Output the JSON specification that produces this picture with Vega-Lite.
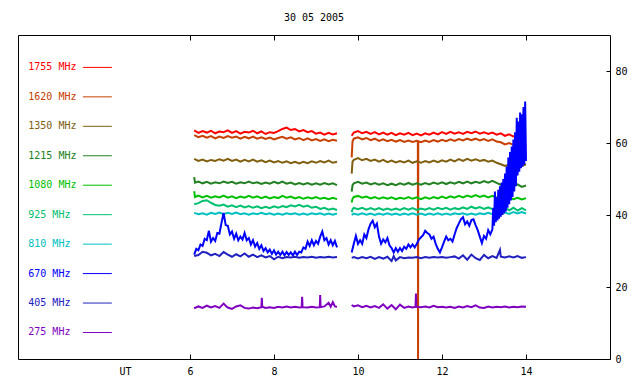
{
"$schema":"https://vega.github.io/schema/vega-lite/v6.json",
"width":592,"height":324,
"autosize":{"type":"none"},
"padding":{"left":18,"top":35,"right":30,"bottom":25},
"background":"white",
"config":{"view":{"stroke":"black","strokeWidth":1},"font":"DejaVu Sans Mono"},
"title":{"text":"30 05 2005","font":"DejaVu Sans Mono","fontSize":10,"fontWeight":"normal","color":"black","offset":12},
"datasets":{
"legend":[{"f":"1755","l":"1755 MHz"},{"f":"1620","l":"1620 MHz"},{"f":"1350","l":"1350 MHz"},{"f":"1215","l":"1215 MHz"},{"f":"1080","l":"1080 MHz"},{"f":"925","l":"925 MHz"},{"f":"810","l":"810 MHz"},{"f":"670","l":"670 MHz"},{"f":"405","l":"405 MHz"},{"f":"275","l":"275 MHz"}],
"lines":[
{"f":"1755","s":1,"t":6.1,"v":63.5},{"f":"1755","s":1,"t":6.2,"v":62.8},{"f":"1755","s":1,"t":6.3,"v":63.3},{"f":"1755","s":1,"t":6.4,"v":62.9},{"f":"1755","s":1,"t":6.5,"v":63.4},{"f":"1755","s":1,"t":6.6,"v":62.7},{"f":"1755","s":1,"t":6.7,"v":63.2},{"f":"1755","s":1,"t":6.8,"v":63.0},{"f":"1755","s":1,"t":6.9,"v":63.5},{"f":"1755","s":1,"t":7.0,"v":62.8},{"f":"1755","s":1,"t":7.1,"v":63.3},{"f":"1755","s":1,"t":7.2,"v":62.6},{"f":"1755","s":1,"t":7.3,"v":63.1},{"f":"1755","s":1,"t":7.4,"v":62.9},{"f":"1755","s":1,"t":7.5,"v":63.4},{"f":"1755","s":1,"t":7.6,"v":62.7},{"f":"1755","s":1,"t":7.7,"v":63.2},{"f":"1755","s":1,"t":7.8,"v":62.5},{"f":"1755","s":1,"t":7.9,"v":63.0},{"f":"1755","s":1,"t":8.0,"v":62.8},{"f":"1755","s":1,"t":8.1,"v":63.3},{"f":"1755","s":1,"t":8.2,"v":63.9},{"f":"1755","s":1,"t":8.3,"v":64.3},{"f":"1755","s":1,"t":8.4,"v":63.6},{"f":"1755","s":1,"t":8.5,"v":63.9},{"f":"1755","s":1,"t":8.6,"v":63.2},{"f":"1755","s":1,"t":8.7,"v":63.6},{"f":"1755","s":1,"t":8.8,"v":63.0},{"f":"1755","s":1,"t":8.9,"v":63.3},{"f":"1755","s":1,"t":9.0,"v":62.6},{"f":"1755","s":1,"t":9.1,"v":62.9},{"f":"1755","s":1,"t":9.2,"v":62.3},{"f":"1755","s":1,"t":9.3,"v":62.8},{"f":"1755","s":1,"t":9.4,"v":62.4},{"f":"1755","s":1,"t":9.5,"v":62.7},
{"f":"1755","s":2,"t":9.85,"v":62.0},{"f":"1755","s":2,"t":9.9,"v":62.9},{"f":"1755","s":2,"t":10.0,"v":63.3},{"f":"1755","s":2,"t":10.1,"v":62.7},{"f":"1755","s":2,"t":10.2,"v":63.1},{"f":"1755","s":2,"t":10.3,"v":62.5},{"f":"1755","s":2,"t":10.4,"v":63.0},{"f":"1755","s":2,"t":10.5,"v":62.4},{"f":"1755","s":2,"t":10.6,"v":62.9},{"f":"1755","s":2,"t":10.7,"v":62.3},{"f":"1755","s":2,"t":10.8,"v":62.8},{"f":"1755","s":2,"t":10.9,"v":62.2},{"f":"1755","s":2,"t":11.0,"v":62.7},{"f":"1755","s":2,"t":11.1,"v":62.3},{"f":"1755","s":2,"t":11.2,"v":62.8},{"f":"1755","s":2,"t":11.3,"v":62.2},{"f":"1755","s":2,"t":11.4,"v":62.6},{"f":"1755","s":2,"t":11.5,"v":62.1},{"f":"1755","s":2,"t":11.6,"v":62.7},{"f":"1755","s":2,"t":11.7,"v":62.3},{"f":"1755","s":2,"t":11.8,"v":62.9},{"f":"1755","s":2,"t":11.9,"v":62.4},{"f":"1755","s":2,"t":12.0,"v":63.0},{"f":"1755","s":2,"t":12.1,"v":62.5},{"f":"1755","s":2,"t":12.2,"v":63.1},{"f":"1755","s":2,"t":12.3,"v":62.6},{"f":"1755","s":2,"t":12.4,"v":63.0},{"f":"1755","s":2,"t":12.5,"v":62.5},{"f":"1755","s":2,"t":12.6,"v":63.1},{"f":"1755","s":2,"t":12.7,"v":62.7},{"f":"1755","s":2,"t":12.8,"v":63.2},{"f":"1755","s":2,"t":12.9,"v":62.6},{"f":"1755","s":2,"t":13.0,"v":63.0},{"f":"1755","s":2,"t":13.1,"v":62.5},{"f":"1755","s":2,"t":13.2,"v":62.9},{"f":"1755","s":2,"t":13.3,"v":62.3},{"f":"1755","s":2,"t":13.4,"v":62.7},{"f":"1755","s":2,"t":13.5,"v":62.0},{"f":"1755","s":2,"t":13.6,"v":62.4},{"f":"1755","s":2,"t":13.7,"v":61.8},{"f":"1755","s":2,"t":13.8,"v":62.3},{"f":"1755","s":2,"t":13.9,"v":61.6},{"f":"1755","s":2,"t":14.0,"v":62.0},
{"f":"1620","s":1,"t":6.1,"v":62.2},{"f":"1620","s":1,"t":6.2,"v":61.6},{"f":"1620","s":1,"t":6.3,"v":62.0},{"f":"1620","s":1,"t":6.4,"v":61.5},{"f":"1620","s":1,"t":6.5,"v":61.9},{"f":"1620","s":1,"t":6.6,"v":61.3},{"f":"1620","s":1,"t":6.7,"v":61.8},{"f":"1620","s":1,"t":6.8,"v":61.4},{"f":"1620","s":1,"t":6.9,"v":61.9},{"f":"1620","s":1,"t":7.0,"v":61.5},{"f":"1620","s":1,"t":7.1,"v":61.8},{"f":"1620","s":1,"t":7.2,"v":61.2},{"f":"1620","s":1,"t":7.3,"v":61.7},{"f":"1620","s":1,"t":7.4,"v":61.3},{"f":"1620","s":1,"t":7.5,"v":61.8},{"f":"1620","s":1,"t":7.6,"v":61.2},{"f":"1620","s":1,"t":7.7,"v":61.6},{"f":"1620","s":1,"t":7.8,"v":61.1},{"f":"1620","s":1,"t":7.9,"v":61.5},{"f":"1620","s":1,"t":8.0,"v":61.0},{"f":"1620","s":1,"t":8.1,"v":61.4},{"f":"1620","s":1,"t":8.2,"v":61.7},{"f":"1620","s":1,"t":8.3,"v":61.2},{"f":"1620","s":1,"t":8.4,"v":61.6},{"f":"1620","s":1,"t":8.5,"v":61.0},{"f":"1620","s":1,"t":8.6,"v":61.4},{"f":"1620","s":1,"t":8.7,"v":60.8},{"f":"1620","s":1,"t":8.8,"v":61.3},{"f":"1620","s":1,"t":8.9,"v":60.7},{"f":"1620","s":1,"t":9.0,"v":61.1},{"f":"1620","s":1,"t":9.1,"v":60.6},{"f":"1620","s":1,"t":9.2,"v":61.0},{"f":"1620","s":1,"t":9.3,"v":60.5},{"f":"1620","s":1,"t":9.4,"v":60.9},{"f":"1620","s":1,"t":9.5,"v":60.6},
{"f":"1620","s":2,"t":9.85,"v":56.0},{"f":"1620","s":2,"t":9.87,"v":60.5},{"f":"1620","s":2,"t":9.9,"v":61.2},{"f":"1620","s":2,"t":10.0,"v":61.6},{"f":"1620","s":2,"t":10.1,"v":61.0},{"f":"1620","s":2,"t":10.2,"v":61.4},{"f":"1620","s":2,"t":10.3,"v":60.8},{"f":"1620","s":2,"t":10.4,"v":61.2},{"f":"1620","s":2,"t":10.5,"v":60.6},{"f":"1620","s":2,"t":10.6,"v":61.0},{"f":"1620","s":2,"t":10.7,"v":60.5},{"f":"1620","s":2,"t":10.8,"v":60.9},{"f":"1620","s":2,"t":10.9,"v":60.4},{"f":"1620","s":2,"t":11.0,"v":60.8},{"f":"1620","s":2,"t":11.1,"v":60.3},{"f":"1620","s":2,"t":11.2,"v":60.7},{"f":"1620","s":2,"t":11.3,"v":60.3},{"f":"1620","s":2,"t":11.4,"v":60.6},{"f":"1620","s":2,"t":11.425,"v":60.5},{"f":"1620","s":2,"t":11.43,"v":0},{"f":"1620","s":2,"t":11.435,"v":60.5},{"f":"1620","s":2,"t":11.5,"v":60.2},{"f":"1620","s":2,"t":11.6,"v":60.7},{"f":"1620","s":2,"t":11.7,"v":60.3},{"f":"1620","s":2,"t":11.8,"v":60.8},{"f":"1620","s":2,"t":11.9,"v":60.4},{"f":"1620","s":2,"t":12.0,"v":60.9},{"f":"1620","s":2,"t":12.1,"v":60.5},{"f":"1620","s":2,"t":12.2,"v":61.0},{"f":"1620","s":2,"t":12.3,"v":60.6},{"f":"1620","s":2,"t":12.4,"v":61.1},{"f":"1620","s":2,"t":12.5,"v":60.7},{"f":"1620","s":2,"t":12.6,"v":61.2},{"f":"1620","s":2,"t":12.7,"v":60.8},{"f":"1620","s":2,"t":12.8,"v":61.2},{"f":"1620","s":2,"t":12.9,"v":60.7},{"f":"1620","s":2,"t":13.0,"v":61.1},{"f":"1620","s":2,"t":13.1,"v":60.6},{"f":"1620","s":2,"t":13.2,"v":61.0},{"f":"1620","s":2,"t":13.3,"v":60.4},{"f":"1620","s":2,"t":13.4,"v":60.2},{"f":"1620","s":2,"t":13.5,"v":59.6},{"f":"1620","s":2,"t":13.6,"v":60.0},{"f":"1620","s":2,"t":13.7,"v":59.5},{"f":"1620","s":2,"t":13.8,"v":59.9},{"f":"1620","s":2,"t":13.9,"v":59.4},{"f":"1620","s":2,"t":14.0,"v":59.8},
{"f":"1350","s":1,"t":6.1,"v":55.6},{"f":"1350","s":1,"t":6.2,"v":55.0},{"f":"1350","s":1,"t":6.3,"v":55.4},{"f":"1350","s":1,"t":6.4,"v":54.9},{"f":"1350","s":1,"t":6.5,"v":55.3},{"f":"1350","s":1,"t":6.6,"v":55.0},{"f":"1350","s":1,"t":6.7,"v":55.5},{"f":"1350","s":1,"t":6.8,"v":55.1},{"f":"1350","s":1,"t":6.9,"v":55.6},{"f":"1350","s":1,"t":7.0,"v":55.0},{"f":"1350","s":1,"t":7.1,"v":55.4},{"f":"1350","s":1,"t":7.2,"v":54.8},{"f":"1350","s":1,"t":7.3,"v":55.3},{"f":"1350","s":1,"t":7.4,"v":54.9},{"f":"1350","s":1,"t":7.5,"v":55.4},{"f":"1350","s":1,"t":7.6,"v":54.8},{"f":"1350","s":1,"t":7.7,"v":55.2},{"f":"1350","s":1,"t":7.8,"v":54.7},{"f":"1350","s":1,"t":7.9,"v":55.1},{"f":"1350","s":1,"t":8.0,"v":54.6},{"f":"1350","s":1,"t":8.1,"v":55.0},{"f":"1350","s":1,"t":8.2,"v":54.5},{"f":"1350","s":1,"t":8.3,"v":54.9},{"f":"1350","s":1,"t":8.4,"v":54.4},{"f":"1350","s":1,"t":8.5,"v":54.8},{"f":"1350","s":1,"t":8.6,"v":54.3},{"f":"1350","s":1,"t":8.7,"v":54.8},{"f":"1350","s":1,"t":8.8,"v":54.4},{"f":"1350","s":1,"t":8.9,"v":54.9},{"f":"1350","s":1,"t":9.0,"v":54.5},{"f":"1350","s":1,"t":9.1,"v":55.0},{"f":"1350","s":1,"t":9.2,"v":54.6},{"f":"1350","s":1,"t":9.3,"v":55.1},{"f":"1350","s":1,"t":9.4,"v":54.5},{"f":"1350","s":1,"t":9.5,"v":54.8},
{"f":"1350","s":2,"t":9.85,"v":51.5},{"f":"1350","s":2,"t":9.87,"v":54.8},{"f":"1350","s":2,"t":9.9,"v":55.3},{"f":"1350","s":2,"t":10.0,"v":55.8},{"f":"1350","s":2,"t":10.1,"v":55.2},{"f":"1350","s":2,"t":10.2,"v":55.6},{"f":"1350","s":2,"t":10.3,"v":55.0},{"f":"1350","s":2,"t":10.4,"v":55.4},{"f":"1350","s":2,"t":10.5,"v":54.8},{"f":"1350","s":2,"t":10.6,"v":55.3},{"f":"1350","s":2,"t":10.7,"v":54.7},{"f":"1350","s":2,"t":10.8,"v":55.1},{"f":"1350","s":2,"t":10.9,"v":54.6},{"f":"1350","s":2,"t":11.0,"v":55.0},{"f":"1350","s":2,"t":11.1,"v":54.6},{"f":"1350","s":2,"t":11.2,"v":55.1},{"f":"1350","s":2,"t":11.3,"v":54.5},{"f":"1350","s":2,"t":11.4,"v":54.9},{"f":"1350","s":2,"t":11.5,"v":54.5},{"f":"1350","s":2,"t":11.6,"v":55.0},{"f":"1350","s":2,"t":11.7,"v":54.6},{"f":"1350","s":2,"t":11.8,"v":55.1},{"f":"1350","s":2,"t":11.9,"v":54.7},{"f":"1350","s":2,"t":12.0,"v":55.2},{"f":"1350","s":2,"t":12.1,"v":54.8},{"f":"1350","s":2,"t":12.2,"v":55.4},{"f":"1350","s":2,"t":12.3,"v":54.9},{"f":"1350","s":2,"t":12.4,"v":55.5},{"f":"1350","s":2,"t":12.5,"v":55.0},{"f":"1350","s":2,"t":12.6,"v":55.6},{"f":"1350","s":2,"t":12.7,"v":55.1},{"f":"1350","s":2,"t":12.8,"v":55.5},{"f":"1350","s":2,"t":12.9,"v":55.0},{"f":"1350","s":2,"t":13.0,"v":55.3},{"f":"1350","s":2,"t":13.1,"v":54.8},{"f":"1350","s":2,"t":13.2,"v":55.1},{"f":"1350","s":2,"t":13.3,"v":54.5},{"f":"1350","s":2,"t":13.4,"v":54.1},{"f":"1350","s":2,"t":13.5,"v":53.6},{"f":"1350","s":2,"t":13.6,"v":54.0},{"f":"1350","s":2,"t":13.7,"v":53.5},{"f":"1350","s":2,"t":13.8,"v":54.0},{"f":"1350","s":2,"t":13.9,"v":53.6},{"f":"1350","s":2,"t":14.0,"v":54.1},
{"f":"1215","s":1,"t":6.1,"v":50.5},{"f":"1215","s":1,"t":6.12,"v":49.0},{"f":"1215","s":1,"t":6.2,"v":49.3},{"f":"1215","s":1,"t":6.3,"v":48.8},{"f":"1215","s":1,"t":6.4,"v":49.2},{"f":"1215","s":1,"t":6.5,"v":48.7},{"f":"1215","s":1,"t":6.6,"v":49.1},{"f":"1215","s":1,"t":6.7,"v":48.8},{"f":"1215","s":1,"t":6.8,"v":49.3},{"f":"1215","s":1,"t":6.9,"v":48.9},{"f":"1215","s":1,"t":7.0,"v":49.2},{"f":"1215","s":1,"t":7.1,"v":48.7},{"f":"1215","s":1,"t":7.2,"v":49.1},{"f":"1215","s":1,"t":7.3,"v":48.8},{"f":"1215","s":1,"t":7.4,"v":49.3},{"f":"1215","s":1,"t":7.5,"v":48.8},{"f":"1215","s":1,"t":7.6,"v":49.1},{"f":"1215","s":1,"t":7.7,"v":48.6},{"f":"1215","s":1,"t":7.8,"v":49.0},{"f":"1215","s":1,"t":7.9,"v":48.7},{"f":"1215","s":1,"t":8.0,"v":49.2},{"f":"1215","s":1,"t":8.1,"v":48.8},{"f":"1215","s":1,"t":8.2,"v":49.3},{"f":"1215","s":1,"t":8.3,"v":48.7},{"f":"1215","s":1,"t":8.4,"v":49.0},{"f":"1215","s":1,"t":8.5,"v":48.5},{"f":"1215","s":1,"t":8.6,"v":48.9},{"f":"1215","s":1,"t":8.7,"v":48.5},{"f":"1215","s":1,"t":8.8,"v":48.9},{"f":"1215","s":1,"t":8.9,"v":48.4},{"f":"1215","s":1,"t":9.0,"v":48.8},{"f":"1215","s":1,"t":9.1,"v":48.4},{"f":"1215","s":1,"t":9.2,"v":48.9},{"f":"1215","s":1,"t":9.3,"v":48.5},{"f":"1215","s":1,"t":9.4,"v":48.8},{"f":"1215","s":1,"t":9.5,"v":48.3},
{"f":"1215","s":2,"t":9.85,"v":46.5},{"f":"1215","s":2,"t":9.87,"v":48.3},{"f":"1215","s":2,"t":9.9,"v":48.8},{"f":"1215","s":2,"t":10.0,"v":49.2},{"f":"1215","s":2,"t":10.1,"v":48.7},{"f":"1215","s":2,"t":10.2,"v":49.0},{"f":"1215","s":2,"t":10.3,"v":48.5},{"f":"1215","s":2,"t":10.4,"v":48.9},{"f":"1215","s":2,"t":10.5,"v":48.4},{"f":"1215","s":2,"t":10.6,"v":48.8},{"f":"1215","s":2,"t":10.7,"v":48.3},{"f":"1215","s":2,"t":10.8,"v":48.7},{"f":"1215","s":2,"t":10.9,"v":48.3},{"f":"1215","s":2,"t":11.0,"v":48.8},{"f":"1215","s":2,"t":11.1,"v":48.4},{"f":"1215","s":2,"t":11.2,"v":48.9},{"f":"1215","s":2,"t":11.3,"v":48.4},{"f":"1215","s":2,"t":11.4,"v":48.8},{"f":"1215","s":2,"t":11.5,"v":48.4},{"f":"1215","s":2,"t":11.6,"v":48.9},{"f":"1215","s":2,"t":11.7,"v":48.5},{"f":"1215","s":2,"t":11.8,"v":49.0},{"f":"1215","s":2,"t":11.9,"v":48.6},{"f":"1215","s":2,"t":12.0,"v":49.1},{"f":"1215","s":2,"t":12.1,"v":48.6},{"f":"1215","s":2,"t":12.2,"v":49.1},{"f":"1215","s":2,"t":12.3,"v":48.7},{"f":"1215","s":2,"t":12.4,"v":49.2},{"f":"1215","s":2,"t":12.5,"v":48.8},{"f":"1215","s":2,"t":12.6,"v":49.3},{"f":"1215","s":2,"t":12.7,"v":48.8},{"f":"1215","s":2,"t":12.8,"v":49.2},{"f":"1215","s":2,"t":12.9,"v":48.9},{"f":"1215","s":2,"t":13.0,"v":49.4},{"f":"1215","s":2,"t":13.1,"v":49.0},{"f":"1215","s":2,"t":13.2,"v":49.5},{"f":"1215","s":2,"t":13.3,"v":48.9},{"f":"1215","s":2,"t":13.4,"v":48.4},{"f":"1215","s":2,"t":13.5,"v":48.0},{"f":"1215","s":2,"t":13.6,"v":48.6},{"f":"1215","s":2,"t":13.7,"v":48.1},{"f":"1215","s":2,"t":13.8,"v":48.5},{"f":"1215","s":2,"t":13.9,"v":47.8},{"f":"1215","s":2,"t":14.0,"v":48.2},
{"f":"1080","s":1,"t":6.1,"v":46.6},{"f":"1080","s":1,"t":6.12,"v":45.0},{"f":"1080","s":1,"t":6.2,"v":45.4},{"f":"1080","s":1,"t":6.3,"v":44.9},{"f":"1080","s":1,"t":6.4,"v":45.3},{"f":"1080","s":1,"t":6.5,"v":44.8},{"f":"1080","s":1,"t":6.6,"v":45.2},{"f":"1080","s":1,"t":6.7,"v":44.9},{"f":"1080","s":1,"t":6.8,"v":45.4},{"f":"1080","s":1,"t":6.9,"v":44.8},{"f":"1080","s":1,"t":7.0,"v":45.2},{"f":"1080","s":1,"t":7.1,"v":44.7},{"f":"1080","s":1,"t":7.2,"v":45.1},{"f":"1080","s":1,"t":7.3,"v":44.8},{"f":"1080","s":1,"t":7.4,"v":45.3},{"f":"1080","s":1,"t":7.5,"v":44.8},{"f":"1080","s":1,"t":7.6,"v":45.2},{"f":"1080","s":1,"t":7.7,"v":44.7},{"f":"1080","s":1,"t":7.8,"v":45.1},{"f":"1080","s":1,"t":7.9,"v":44.6},{"f":"1080","s":1,"t":8.0,"v":45.0},{"f":"1080","s":1,"t":8.1,"v":44.7},{"f":"1080","s":1,"t":8.2,"v":45.3},{"f":"1080","s":1,"t":8.3,"v":44.8},{"f":"1080","s":1,"t":8.4,"v":45.1},{"f":"1080","s":1,"t":8.5,"v":44.6},{"f":"1080","s":1,"t":8.6,"v":45.0},{"f":"1080","s":1,"t":8.7,"v":44.5},{"f":"1080","s":1,"t":8.8,"v":44.9},{"f":"1080","s":1,"t":8.9,"v":44.6},{"f":"1080","s":1,"t":9.0,"v":45.0},{"f":"1080","s":1,"t":9.1,"v":44.5},{"f":"1080","s":1,"t":9.2,"v":44.8},{"f":"1080","s":1,"t":9.3,"v":44.4},{"f":"1080","s":1,"t":9.4,"v":44.8},{"f":"1080","s":1,"t":9.5,"v":44.4},
{"f":"1080","s":2,"t":9.85,"v":43.5},{"f":"1080","s":2,"t":9.87,"v":44.5},{"f":"1080","s":2,"t":9.9,"v":45.0},{"f":"1080","s":2,"t":10.0,"v":45.3},{"f":"1080","s":2,"t":10.1,"v":44.8},{"f":"1080","s":2,"t":10.2,"v":45.1},{"f":"1080","s":2,"t":10.3,"v":44.6},{"f":"1080","s":2,"t":10.4,"v":45.0},{"f":"1080","s":2,"t":10.5,"v":44.5},{"f":"1080","s":2,"t":10.6,"v":44.9},{"f":"1080","s":2,"t":10.7,"v":44.5},{"f":"1080","s":2,"t":10.8,"v":44.9},{"f":"1080","s":2,"t":10.9,"v":44.4},{"f":"1080","s":2,"t":11.0,"v":44.8},{"f":"1080","s":2,"t":11.1,"v":44.5},{"f":"1080","s":2,"t":11.2,"v":45.0},{"f":"1080","s":2,"t":11.3,"v":44.5},{"f":"1080","s":2,"t":11.4,"v":44.9},{"f":"1080","s":2,"t":11.5,"v":44.4},{"f":"1080","s":2,"t":11.6,"v":44.9},{"f":"1080","s":2,"t":11.7,"v":44.5},{"f":"1080","s":2,"t":11.8,"v":45.0},{"f":"1080","s":2,"t":11.9,"v":44.6},{"f":"1080","s":2,"t":12.0,"v":45.1},{"f":"1080","s":2,"t":12.1,"v":44.7},{"f":"1080","s":2,"t":12.2,"v":45.2},{"f":"1080","s":2,"t":12.3,"v":44.8},{"f":"1080","s":2,"t":12.4,"v":45.3},{"f":"1080","s":2,"t":12.5,"v":44.9},{"f":"1080","s":2,"t":12.6,"v":45.4},{"f":"1080","s":2,"t":12.7,"v":45.0},{"f":"1080","s":2,"t":12.8,"v":45.5},{"f":"1080","s":2,"t":12.9,"v":45.0},{"f":"1080","s":2,"t":13.0,"v":45.4},{"f":"1080","s":2,"t":13.1,"v":44.9},{"f":"1080","s":2,"t":13.2,"v":45.3},{"f":"1080","s":2,"t":13.3,"v":44.8},{"f":"1080","s":2,"t":13.4,"v":45.1},{"f":"1080","s":2,"t":13.5,"v":44.5},{"f":"1080","s":2,"t":13.6,"v":44.9},{"f":"1080","s":2,"t":13.7,"v":44.4},{"f":"1080","s":2,"t":13.8,"v":44.8},{"f":"1080","s":2,"t":13.9,"v":44.3},{"f":"1080","s":2,"t":14.0,"v":44.7},
{"f":"925","s":1,"t":6.1,"v":43.0},{"f":"925","s":1,"t":6.2,"v":43.3},{"f":"925","s":1,"t":6.3,"v":43.9},{"f":"925","s":1,"t":6.4,"v":44.1},{"f":"925","s":1,"t":6.5,"v":43.4},{"f":"925","s":1,"t":6.6,"v":42.8},{"f":"925","s":1,"t":6.7,"v":42.6},{"f":"925","s":1,"t":6.8,"v":42.9},{"f":"925","s":1,"t":6.9,"v":42.3},{"f":"925","s":1,"t":7.0,"v":42.7},{"f":"925","s":1,"t":7.1,"v":42.2},{"f":"925","s":1,"t":7.2,"v":42.6},{"f":"925","s":1,"t":7.3,"v":42.1},{"f":"925","s":1,"t":7.4,"v":42.5},{"f":"925","s":1,"t":7.5,"v":42.0},{"f":"925","s":1,"t":7.6,"v":42.4},{"f":"925","s":1,"t":7.7,"v":41.9},{"f":"925","s":1,"t":7.8,"v":42.3},{"f":"925","s":1,"t":7.9,"v":41.9},{"f":"925","s":1,"t":8.0,"v":42.4},{"f":"925","s":1,"t":8.1,"v":42.0},{"f":"925","s":1,"t":8.2,"v":42.5},{"f":"925","s":1,"t":8.3,"v":42.2},{"f":"925","s":1,"t":8.4,"v":42.7},{"f":"925","s":1,"t":8.5,"v":42.4},{"f":"925","s":1,"t":8.6,"v":42.8},{"f":"925","s":1,"t":8.7,"v":42.3},{"f":"925","s":1,"t":8.8,"v":42.6},{"f":"925","s":1,"t":8.9,"v":42.0},{"f":"925","s":1,"t":9.0,"v":42.3},{"f":"925","s":1,"t":9.1,"v":41.7},{"f":"925","s":1,"t":9.2,"v":42.0},{"f":"925","s":1,"t":9.3,"v":41.5},{"f":"925","s":1,"t":9.4,"v":41.8},{"f":"925","s":1,"t":9.5,"v":41.4},
{"f":"925","s":2,"t":9.85,"v":40.8},{"f":"925","s":2,"t":9.87,"v":41.6},{"f":"925","s":2,"t":9.9,"v":42.0},{"f":"925","s":2,"t":10.0,"v":41.6},{"f":"925","s":2,"t":10.1,"v":42.0},{"f":"925","s":2,"t":10.2,"v":41.5},{"f":"925","s":2,"t":10.3,"v":41.9},{"f":"925","s":2,"t":10.4,"v":41.5},{"f":"925","s":2,"t":10.5,"v":41.9},{"f":"925","s":2,"t":10.6,"v":41.4},{"f":"925","s":2,"t":10.7,"v":41.8},{"f":"925","s":2,"t":10.8,"v":41.4},{"f":"925","s":2,"t":10.9,"v":41.8},{"f":"925","s":2,"t":11.0,"v":41.4},{"f":"925","s":2,"t":11.1,"v":41.9},{"f":"925","s":2,"t":11.2,"v":41.5},{"f":"925","s":2,"t":11.3,"v":41.9},{"f":"925","s":2,"t":11.4,"v":41.4},{"f":"925","s":2,"t":11.5,"v":41.8},{"f":"925","s":2,"t":11.6,"v":41.5},{"f":"925","s":2,"t":11.7,"v":41.9},{"f":"925","s":2,"t":11.8,"v":41.5},{"f":"925","s":2,"t":11.9,"v":42.0},{"f":"925","s":2,"t":12.0,"v":41.6},{"f":"925","s":2,"t":12.1,"v":42.0},{"f":"925","s":2,"t":12.2,"v":41.5},{"f":"925","s":2,"t":12.3,"v":41.9},{"f":"925","s":2,"t":12.4,"v":41.6},{"f":"925","s":2,"t":12.5,"v":42.1},{"f":"925","s":2,"t":12.6,"v":41.7},{"f":"925","s":2,"t":12.7,"v":42.3},{"f":"925","s":2,"t":12.8,"v":41.8},{"f":"925","s":2,"t":12.9,"v":42.2},{"f":"925","s":2,"t":13.0,"v":41.7},{"f":"925","s":2,"t":13.1,"v":42.1},{"f":"925","s":2,"t":13.2,"v":41.6},{"f":"925","s":2,"t":13.3,"v":42.0},{"f":"925","s":2,"t":13.4,"v":41.4},{"f":"925","s":2,"t":13.5,"v":42.1},{"f":"925","s":2,"t":13.6,"v":41.3},{"f":"925","s":2,"t":13.7,"v":42.0},{"f":"925","s":2,"t":13.8,"v":41.2},{"f":"925","s":2,"t":13.9,"v":41.9},{"f":"925","s":2,"t":14.0,"v":41.3},
{"f":"810","s":1,"t":6.1,"v":40.6},{"f":"810","s":1,"t":6.2,"v":40.2},{"f":"810","s":1,"t":6.3,"v":40.5},{"f":"810","s":1,"t":6.4,"v":40.1},{"f":"810","s":1,"t":6.5,"v":40.6},{"f":"810","s":1,"t":6.6,"v":40.3},{"f":"810","s":1,"t":6.7,"v":40.7},{"f":"810","s":1,"t":6.8,"v":40.2},{"f":"810","s":1,"t":6.9,"v":40.6},{"f":"810","s":1,"t":7.0,"v":40.3},{"f":"810","s":1,"t":7.1,"v":40.7},{"f":"810","s":1,"t":7.2,"v":40.2},{"f":"810","s":1,"t":7.3,"v":40.5},{"f":"810","s":1,"t":7.4,"v":40.1},{"f":"810","s":1,"t":7.5,"v":40.5},{"f":"810","s":1,"t":7.6,"v":40.2},{"f":"810","s":1,"t":7.7,"v":40.6},{"f":"810","s":1,"t":7.8,"v":40.2},{"f":"810","s":1,"t":7.9,"v":40.5},{"f":"810","s":1,"t":8.0,"v":40.1},{"f":"810","s":1,"t":8.1,"v":40.4},{"f":"810","s":1,"t":8.2,"v":40.1},{"f":"810","s":1,"t":8.3,"v":40.5},{"f":"810","s":1,"t":8.4,"v":40.2},{"f":"810","s":1,"t":8.5,"v":40.5},{"f":"810","s":1,"t":8.6,"v":40.1},{"f":"810","s":1,"t":8.7,"v":40.4},{"f":"810","s":1,"t":8.8,"v":40.1},{"f":"810","s":1,"t":8.9,"v":40.5},{"f":"810","s":1,"t":9.0,"v":40.2},{"f":"810","s":1,"t":9.1,"v":40.5},{"f":"810","s":1,"t":9.2,"v":40.1},{"f":"810","s":1,"t":9.3,"v":40.4},{"f":"810","s":1,"t":9.4,"v":40.1},{"f":"810","s":1,"t":9.5,"v":40.4},
{"f":"810","s":2,"t":9.85,"v":40.0},{"f":"810","s":2,"t":9.9,"v":40.4},{"f":"810","s":2,"t":10.0,"v":40.1},{"f":"810","s":2,"t":10.1,"v":40.5},{"f":"810","s":2,"t":10.2,"v":40.1},{"f":"810","s":2,"t":10.3,"v":40.4},{"f":"810","s":2,"t":10.4,"v":40.0},{"f":"810","s":2,"t":10.5,"v":40.4},{"f":"810","s":2,"t":10.6,"v":40.1},{"f":"810","s":2,"t":10.7,"v":40.5},{"f":"810","s":2,"t":10.8,"v":40.1},{"f":"810","s":2,"t":10.9,"v":40.4},{"f":"810","s":2,"t":11.0,"v":40.0},{"f":"810","s":2,"t":11.1,"v":40.4},{"f":"810","s":2,"t":11.2,"v":40.1},{"f":"810","s":2,"t":11.3,"v":40.5},{"f":"810","s":2,"t":11.4,"v":40.1},{"f":"810","s":2,"t":11.5,"v":40.4},{"f":"810","s":2,"t":11.6,"v":40.0},{"f":"810","s":2,"t":11.7,"v":40.4},{"f":"810","s":2,"t":11.8,"v":40.1},{"f":"810","s":2,"t":11.9,"v":40.5},{"f":"810","s":2,"t":12.0,"v":40.1},{"f":"810","s":2,"t":12.1,"v":40.4},{"f":"810","s":2,"t":12.2,"v":40.1},{"f":"810","s":2,"t":12.3,"v":40.5},{"f":"810","s":2,"t":12.4,"v":40.2},{"f":"810","s":2,"t":12.5,"v":40.5},{"f":"810","s":2,"t":12.6,"v":40.1},{"f":"810","s":2,"t":12.7,"v":40.4},{"f":"810","s":2,"t":12.8,"v":40.1},{"f":"810","s":2,"t":12.9,"v":40.5},{"f":"810","s":2,"t":13.0,"v":40.2},{"f":"810","s":2,"t":13.1,"v":40.6},{"f":"810","s":2,"t":13.2,"v":40.2},{"f":"810","s":2,"t":13.3,"v":40.6},{"f":"810","s":2,"t":13.4,"v":40.3},{"f":"810","s":2,"t":13.5,"v":40.7},{"f":"810","s":2,"t":13.6,"v":40.3},{"f":"810","s":2,"t":13.7,"v":40.8},{"f":"810","s":2,"t":13.8,"v":40.4},{"f":"810","s":2,"t":13.9,"v":40.8},{"f":"810","s":2,"t":14.0,"v":40.4},
{"f":"670","s":1,"t":6.1,"v":29.0},{"f":"670","s":1,"t":6.15,"v":30.6},{"f":"670","s":1,"t":6.2,"v":30.2},{"f":"670","s":1,"t":6.25,"v":31.8},{"f":"670","s":1,"t":6.3,"v":31.4},{"f":"670","s":1,"t":6.35,"v":33.4},{"f":"670","s":1,"t":6.4,"v":33.0},{"f":"670","s":1,"t":6.45,"v":35.6},{"f":"670","s":1,"t":6.5,"v":32.6},{"f":"670","s":1,"t":6.55,"v":33.6},{"f":"670","s":1,"t":6.6,"v":32.8},{"f":"670","s":1,"t":6.65,"v":35.0},{"f":"670","s":1,"t":6.7,"v":34.8},{"f":"670","s":1,"t":6.75,"v":37.8},{"f":"670","s":1,"t":6.8,"v":40.6},{"f":"670","s":1,"t":6.85,"v":37.2},{"f":"670","s":1,"t":6.9,"v":37.0},{"f":"670","s":1,"t":6.95,"v":34.6},{"f":"670","s":1,"t":7.0,"v":35.4},{"f":"670","s":1,"t":7.05,"v":33.4},{"f":"670","s":1,"t":7.1,"v":34.8},{"f":"670","s":1,"t":7.15,"v":33.0},{"f":"670","s":1,"t":7.2,"v":34.0},{"f":"670","s":1,"t":7.25,"v":33.2},{"f":"670","s":1,"t":7.3,"v":35.0},{"f":"670","s":1,"t":7.35,"v":33.0},{"f":"670","s":1,"t":7.4,"v":33.6},{"f":"670","s":1,"t":7.45,"v":31.8},{"f":"670","s":1,"t":7.5,"v":33.0},{"f":"670","s":1,"t":7.55,"v":31.2},{"f":"670","s":1,"t":7.6,"v":32.2},{"f":"670","s":1,"t":7.65,"v":30.6},{"f":"670","s":1,"t":7.7,"v":31.6},{"f":"670","s":1,"t":7.75,"v":30.0},{"f":"670","s":1,"t":7.8,"v":30.8},{"f":"670","s":1,"t":7.85,"v":29.6},{"f":"670","s":1,"t":7.9,"v":30.4},{"f":"670","s":1,"t":7.95,"v":29.2},{"f":"670","s":1,"t":8.0,"v":30.2},{"f":"670","s":1,"t":8.05,"v":29.0},{"f":"670","s":1,"t":8.1,"v":29.8},{"f":"670","s":1,"t":8.15,"v":28.9},{"f":"670","s":1,"t":8.2,"v":29.8},{"f":"670","s":1,"t":8.25,"v":28.8},{"f":"670","s":1,"t":8.3,"v":29.7},{"f":"670","s":1,"t":8.35,"v":28.9},{"f":"670","s":1,"t":8.4,"v":29.6},{"f":"670","s":1,"t":8.45,"v":28.8},{"f":"670","s":1,"t":8.5,"v":29.8},{"f":"670","s":1,"t":8.55,"v":28.9},{"f":"670","s":1,"t":8.6,"v":29.8},{"f":"670","s":1,"t":8.65,"v":29.6},{"f":"670","s":1,"t":8.7,"v":31.0},{"f":"670","s":1,"t":8.75,"v":30.6},{"f":"670","s":1,"t":8.8,"v":32.6},{"f":"670","s":1,"t":8.85,"v":31.4},{"f":"670","s":1,"t":8.9,"v":33.0},{"f":"670","s":1,"t":8.95,"v":31.6},{"f":"670","s":1,"t":9.0,"v":32.8},{"f":"670","s":1,"t":9.05,"v":32.0},{"f":"670","s":1,"t":9.1,"v":34.0},{"f":"670","s":1,"t":9.15,"v":35.4},{"f":"670","s":1,"t":9.2,"v":33.0},{"f":"670","s":1,"t":9.25,"v":33.6},{"f":"670","s":1,"t":9.3,"v":31.8},{"f":"670","s":1,"t":9.35,"v":33.0},{"f":"670","s":1,"t":9.4,"v":31.6},{"f":"670","s":1,"t":9.45,"v":32.8},{"f":"670","s":1,"t":9.5,"v":31.0},
{"f":"670","s":2,"t":9.85,"v":29.6},{"f":"670","s":2,"t":9.9,"v":32.0},{"f":"670","s":2,"t":9.95,"v":34.2},{"f":"670","s":2,"t":10.0,"v":32.0},{"f":"670","s":2,"t":10.05,"v":33.0},{"f":"670","s":2,"t":10.1,"v":32.0},{"f":"670","s":2,"t":10.15,"v":34.6},{"f":"670","s":2,"t":10.2,"v":33.6},{"f":"670","s":2,"t":10.25,"v":36.0},{"f":"670","s":2,"t":10.3,"v":37.6},{"f":"670","s":2,"t":10.35,"v":38.4},{"f":"670","s":2,"t":10.4,"v":36.6},{"f":"670","s":2,"t":10.45,"v":37.6},{"f":"670","s":2,"t":10.5,"v":34.0},{"f":"670","s":2,"t":10.55,"v":32.0},{"f":"670","s":2,"t":10.6,"v":33.2},{"f":"670","s":2,"t":10.65,"v":32.4},{"f":"670","s":2,"t":10.7,"v":33.6},{"f":"670","s":2,"t":10.75,"v":31.6},{"f":"670","s":2,"t":10.8,"v":30.8},{"f":"670","s":2,"t":10.85,"v":29.6},{"f":"670","s":2,"t":10.9,"v":30.8},{"f":"670","s":2,"t":10.95,"v":29.8},{"f":"670","s":2,"t":11.0,"v":30.8},{"f":"670","s":2,"t":11.05,"v":30.0},{"f":"670","s":2,"t":11.1,"v":31.2},{"f":"670","s":2,"t":11.15,"v":30.6},{"f":"670","s":2,"t":11.2,"v":31.8},{"f":"670","s":2,"t":11.25,"v":31.0},{"f":"670","s":2,"t":11.3,"v":31.8},{"f":"670","s":2,"t":11.35,"v":31.0},{"f":"670","s":2,"t":11.4,"v":32.0},{"f":"670","s":2,"t":11.45,"v":33.2},{"f":"670","s":2,"t":11.5,"v":33.8},{"f":"670","s":2,"t":11.55,"v":34.4},{"f":"670","s":2,"t":11.6,"v":35.6},{"f":"670","s":2,"t":11.65,"v":35.0},{"f":"670","s":2,"t":11.7,"v":34.6},{"f":"670","s":2,"t":11.75,"v":33.4},{"f":"670","s":2,"t":11.8,"v":34.0},{"f":"670","s":2,"t":11.85,"v":32.0},{"f":"670","s":2,"t":11.9,"v":30.6},{"f":"670","s":2,"t":11.95,"v":29.6},{"f":"670","s":2,"t":12.0,"v":31.0},{"f":"670","s":2,"t":12.05,"v":32.6},{"f":"670","s":2,"t":12.1,"v":34.0},{"f":"670","s":2,"t":12.15,"v":33.0},{"f":"670","s":2,"t":12.2,"v":33.4},{"f":"670","s":2,"t":12.25,"v":32.6},{"f":"670","s":2,"t":12.3,"v":34.6},{"f":"670","s":2,"t":12.35,"v":36.4},{"f":"670","s":2,"t":12.4,"v":37.6},{"f":"670","s":2,"t":12.45,"v":38.8},{"f":"670","s":2,"t":12.5,"v":39.4},{"f":"670","s":2,"t":12.55,"v":37.4},{"f":"670","s":2,"t":12.6,"v":38.2},{"f":"670","s":2,"t":12.65,"v":37.0},{"f":"670","s":2,"t":12.7,"v":38.6},{"f":"670","s":2,"t":12.75,"v":38.8},{"f":"670","s":2,"t":12.8,"v":37.2},{"f":"670","s":2,"t":12.85,"v":35.8},{"f":"670","s":2,"t":12.9,"v":34.0},{"f":"670","s":2,"t":12.95,"v":32.2},{"f":"670","s":2,"t":13.0,"v":34.2},{"f":"670","s":2,"t":13.05,"v":33.4},{"f":"670","s":2,"t":13.1,"v":35.8},{"f":"670","s":2,"t":13.15,"v":34.6},{"f":"670","s":2,"t":13.2,"v":36.0},{"f":"670","s":2,"t":13.22,"v":42.0},{"f":"670","s":2,"t":13.24,"v":37.0},{"f":"670","s":2,"t":13.26,"v":46.5},{"f":"670","s":2,"t":13.28,"v":38.0},{"f":"670","s":2,"t":13.3,"v":45.0},{"f":"670","s":2,"t":13.32,"v":38.5},{"f":"670","s":2,"t":13.34,"v":47.0},{"f":"670","s":2,"t":13.36,"v":39.0},{"f":"670","s":2,"t":13.38,"v":48.0},{"f":"670","s":2,"t":13.4,"v":39.5},{"f":"670","s":2,"t":13.42,"v":49.0},{"f":"670","s":2,"t":13.44,"v":40.0},{"f":"670","s":2,"t":13.46,"v":50.0},{"f":"670","s":2,"t":13.48,"v":40.5},{"f":"670","s":2,"t":13.5,"v":51.5},{"f":"670","s":2,"t":13.52,"v":41.0},{"f":"670","s":2,"t":13.54,"v":53.5},{"f":"670","s":2,"t":13.56,"v":42.0},{"f":"670","s":2,"t":13.58,"v":56.0},{"f":"670","s":2,"t":13.6,"v":43.0},{"f":"670","s":2,"t":13.62,"v":57.5},{"f":"670","s":2,"t":13.64,"v":44.0},{"f":"670","s":2,"t":13.66,"v":59.0},{"f":"670","s":2,"t":13.68,"v":45.0},{"f":"670","s":2,"t":13.7,"v":61.0},{"f":"670","s":2,"t":13.72,"v":46.5},{"f":"670","s":2,"t":13.74,"v":63.0},{"f":"670","s":2,"t":13.76,"v":48.0},{"f":"670","s":2,"t":13.78,"v":67.0},{"f":"670","s":2,"t":13.8,"v":51.0},{"f":"670","s":2,"t":13.82,"v":66.0},{"f":"670","s":2,"t":13.84,"v":52.0},{"f":"670","s":2,"t":13.86,"v":68.5},{"f":"670","s":2,"t":13.88,"v":53.0},{"f":"670","s":2,"t":13.9,"v":68.0},{"f":"670","s":2,"t":13.92,"v":53.5},{"f":"670","s":2,"t":13.94,"v":70.0},{"f":"670","s":2,"t":13.96,"v":54.0},{"f":"670","s":2,"t":13.98,"v":71.5},{"f":"670","s":2,"t":14.0,"v":55.0},
{"f":"405","s":1,"t":6.1,"v":28.6},{"f":"405","s":1,"t":6.2,"v":28.9},{"f":"405","s":1,"t":6.3,"v":29.8},{"f":"405","s":1,"t":6.4,"v":29.5},{"f":"405","s":1,"t":6.5,"v":28.8},{"f":"405","s":1,"t":6.6,"v":29.2},{"f":"405","s":1,"t":6.7,"v":28.6},{"f":"405","s":1,"t":6.8,"v":29.7},{"f":"405","s":1,"t":6.9,"v":29.0},{"f":"405","s":1,"t":7.0,"v":28.4},{"f":"405","s":1,"t":7.1,"v":29.1},{"f":"405","s":1,"t":7.2,"v":28.5},{"f":"405","s":1,"t":7.3,"v":29.3},{"f":"405","s":1,"t":7.4,"v":28.4},{"f":"405","s":1,"t":7.5,"v":29.0},{"f":"405","s":1,"t":7.6,"v":28.3},{"f":"405","s":1,"t":7.7,"v":28.8},{"f":"405","s":1,"t":7.8,"v":28.2},{"f":"405","s":1,"t":7.9,"v":28.6},{"f":"405","s":1,"t":8.0,"v":27.7},{"f":"405","s":1,"t":8.1,"v":28.4},{"f":"405","s":1,"t":8.2,"v":28.0},{"f":"405","s":1,"t":8.3,"v":28.3},{"f":"405","s":1,"t":8.4,"v":28.2},{"f":"405","s":1,"t":8.5,"v":28.4},{"f":"405","s":1,"t":8.6,"v":28.1},{"f":"405","s":1,"t":8.7,"v":28.3},{"f":"405","s":1,"t":8.8,"v":28.2},{"f":"405","s":1,"t":8.9,"v":28.4},{"f":"405","s":1,"t":9.0,"v":28.1},{"f":"405","s":1,"t":9.1,"v":28.3},{"f":"405","s":1,"t":9.2,"v":28.2},{"f":"405","s":1,"t":9.3,"v":28.4},{"f":"405","s":1,"t":9.4,"v":28.2},{"f":"405","s":1,"t":9.5,"v":28.3},
{"f":"405","s":2,"t":9.85,"v":28.1},{"f":"405","s":2,"t":9.9,"v":28.3},{"f":"405","s":2,"t":10.0,"v":27.9},{"f":"405","s":2,"t":10.1,"v":28.3},{"f":"405","s":2,"t":10.2,"v":28.0},{"f":"405","s":2,"t":10.3,"v":28.4},{"f":"405","s":2,"t":10.4,"v":27.8},{"f":"405","s":2,"t":10.5,"v":28.3},{"f":"405","s":2,"t":10.6,"v":27.9},{"f":"405","s":2,"t":10.7,"v":28.4},{"f":"405","s":2,"t":10.8,"v":27.2},{"f":"405","s":2,"t":10.85,"v":28.6},{"f":"405","s":2,"t":10.9,"v":27.4},{"f":"405","s":2,"t":11.0,"v":28.3},{"f":"405","s":2,"t":11.1,"v":28.0},{"f":"405","s":2,"t":11.2,"v":28.2},{"f":"405","s":2,"t":11.3,"v":28.1},{"f":"405","s":2,"t":11.4,"v":28.3},{"f":"405","s":2,"t":11.5,"v":28.0},{"f":"405","s":2,"t":11.6,"v":28.3},{"f":"405","s":2,"t":11.7,"v":28.1},{"f":"405","s":2,"t":11.8,"v":28.3},{"f":"405","s":2,"t":11.9,"v":28.2},{"f":"405","s":2,"t":12.0,"v":28.3},{"f":"405","s":2,"t":12.1,"v":28.1},{"f":"405","s":2,"t":12.2,"v":28.3},{"f":"405","s":2,"t":12.3,"v":28.5},{"f":"405","s":2,"t":12.4,"v":27.9},{"f":"405","s":2,"t":12.5,"v":28.8},{"f":"405","s":2,"t":12.6,"v":27.6},{"f":"405","s":2,"t":12.7,"v":29.0},{"f":"405","s":2,"t":12.8,"v":28.0},{"f":"405","s":2,"t":12.9,"v":27.5},{"f":"405","s":2,"t":13.0,"v":28.9},{"f":"405","s":2,"t":13.1,"v":28.0},{"f":"405","s":2,"t":13.2,"v":28.6},{"f":"405","s":2,"t":13.3,"v":28.1},{"f":"405","s":2,"t":13.38,"v":30.3},{"f":"405","s":2,"t":13.4,"v":28.4},{"f":"405","s":2,"t":13.5,"v":28.2},{"f":"405","s":2,"t":13.6,"v":28.5},{"f":"405","s":2,"t":13.7,"v":28.2},{"f":"405","s":2,"t":13.8,"v":28.6},{"f":"405","s":2,"t":13.9,"v":28.1},{"f":"405","s":2,"t":14.0,"v":28.3},
{"f":"275","s":1,"t":6.1,"v":14.1},{"f":"275","s":1,"t":6.2,"v":14.6},{"f":"275","s":1,"t":6.3,"v":14.2},{"f":"275","s":1,"t":6.4,"v":14.8},{"f":"275","s":1,"t":6.5,"v":14.3},{"f":"275","s":1,"t":6.6,"v":14.7},{"f":"275","s":1,"t":6.7,"v":14.2},{"f":"275","s":1,"t":6.8,"v":15.4},{"f":"275","s":1,"t":6.85,"v":14.8},{"f":"275","s":1,"t":6.9,"v":14.3},{"f":"275","s":1,"t":7.0,"v":13.9},{"f":"275","s":1,"t":7.1,"v":14.6},{"f":"275","s":1,"t":7.2,"v":14.9},{"f":"275","s":1,"t":7.3,"v":14.2},{"f":"275","s":1,"t":7.4,"v":14.0},{"f":"275","s":1,"t":7.5,"v":14.3},{"f":"275","s":1,"t":7.6,"v":14.1},{"f":"275","s":1,"t":7.7,"v":14.4},{"f":"275","s":1,"t":7.71,"v":17.0},{"f":"275","s":1,"t":7.72,"v":14.5},{"f":"275","s":1,"t":7.8,"v":14.2},{"f":"275","s":1,"t":7.9,"v":14.4},{"f":"275","s":1,"t":8.0,"v":14.2},{"f":"275","s":1,"t":8.1,"v":14.5},{"f":"275","s":1,"t":8.2,"v":14.3},{"f":"275","s":1,"t":8.3,"v":14.6},{"f":"275","s":1,"t":8.4,"v":14.3},{"f":"275","s":1,"t":8.5,"v":14.5},{"f":"275","s":1,"t":8.6,"v":14.3},{"f":"275","s":1,"t":8.66,"v":14.4},{"f":"275","s":1,"t":8.67,"v":17.3},{"f":"275","s":1,"t":8.68,"v":14.4},{"f":"275","s":1,"t":8.8,"v":14.3},{"f":"275","s":1,"t":8.9,"v":14.5},{"f":"275","s":1,"t":9.0,"v":14.3},{"f":"275","s":1,"t":9.09,"v":14.4},{"f":"275","s":1,"t":9.1,"v":17.8},{"f":"275","s":1,"t":9.11,"v":14.4},{"f":"275","s":1,"t":9.2,"v":14.6},{"f":"275","s":1,"t":9.3,"v":15.6},{"f":"275","s":1,"t":9.35,"v":14.5},{"f":"275","s":1,"t":9.4,"v":15.8},{"f":"275","s":1,"t":9.45,"v":14.6},{"f":"275","s":1,"t":9.5,"v":14.5},
{"f":"275","s":2,"t":9.85,"v":15.0},{"f":"275","s":2,"t":9.9,"v":14.6},{"f":"275","s":2,"t":10.0,"v":14.9},{"f":"275","s":2,"t":10.1,"v":14.4},{"f":"275","s":2,"t":10.2,"v":14.8},{"f":"275","s":2,"t":10.3,"v":14.3},{"f":"275","s":2,"t":10.4,"v":14.7},{"f":"275","s":2,"t":10.5,"v":14.2},{"f":"275","s":2,"t":10.6,"v":15.2},{"f":"275","s":2,"t":10.7,"v":14.0},{"f":"275","s":2,"t":10.8,"v":15.0},{"f":"275","s":2,"t":10.9,"v":13.8},{"f":"275","s":2,"t":11.0,"v":15.1},{"f":"275","s":2,"t":11.1,"v":14.2},{"f":"275","s":2,"t":11.2,"v":14.6},{"f":"275","s":2,"t":11.3,"v":14.3},{"f":"275","s":2,"t":11.37,"v":14.5},{"f":"275","s":2,"t":11.38,"v":18.2},{"f":"275","s":2,"t":11.39,"v":14.5},{"f":"275","s":2,"t":11.5,"v":14.4},{"f":"275","s":2,"t":11.6,"v":14.6},{"f":"275","s":2,"t":11.7,"v":14.3},{"f":"275","s":2,"t":11.8,"v":14.8},{"f":"275","s":2,"t":11.9,"v":14.4},{"f":"275","s":2,"t":12.0,"v":14.5},{"f":"275","s":2,"t":12.1,"v":14.3},{"f":"275","s":2,"t":12.2,"v":14.5},{"f":"275","s":2,"t":12.3,"v":14.2},{"f":"275","s":2,"t":12.4,"v":14.6},{"f":"275","s":2,"t":12.5,"v":14.3},{"f":"275","s":2,"t":12.6,"v":14.7},{"f":"275","s":2,"t":12.7,"v":14.4},{"f":"275","s":2,"t":12.8,"v":14.9},{"f":"275","s":2,"t":12.9,"v":14.3},{"f":"275","s":2,"t":13.0,"v":14.2},{"f":"275","s":2,"t":13.1,"v":14.6},{"f":"275","s":2,"t":13.2,"v":14.3},{"f":"275","s":2,"t":13.3,"v":14.5},{"f":"275","s":2,"t":13.4,"v":14.4},{"f":"275","s":2,"t":13.5,"v":14.6},{"f":"275","s":2,"t":13.6,"v":14.3},{"f":"275","s":2,"t":13.7,"v":14.5},{"f":"275","s":2,"t":13.8,"v":14.4},{"f":"275","s":2,"t":13.9,"v":14.6},{"f":"275","s":2,"t":14.0,"v":14.5}
]},
"layer":[
{"data":{"name":"lines"},
 "mark":{"type":"line","strokeWidth":2,"clip":true},
 "encoding":{
  "x":{"field":"t","type":"quantitative","scale":{"domain":[1.905,16],"nice":false,"zero":false},
   "axis":{"orient":"bottom","values":[4.45,6,8,10,12,14],"labelExpr":"datum.value < 5 ? 'UT' : datum.label","offset":-5,"tickSize":5,"domain":false,"grid":false,"title":null,"labelFont":"DejaVu Sans Mono","labelFontSize":10,"labelColor":"black","labelPadding":7,"labelFlush":false,"tickColor":"black","tickOpacity":{"condition":{"test":"datum.value < 5","value":0},"value":1}}},
  "y":{"field":"v","type":"quantitative","scale":{"domain":[0,90],"nice":false},
   "axis":{"orient":"right","values":[0,20,40,60,80],"offset":-4,"tickSize":4,"domain":false,"grid":false,"title":null,"labelFont":"DejaVu Sans Mono","labelFontSize":10,"labelColor":"black","labelPadding":5,"labelFlush":false,"tickColor":"black"}},
  "color":{"field":"f","type":"nominal","legend":null,
   "scale":{"domain":["1755","1620","1350","1215","1080","925","810","670","405","275"],"range":["#ff0000","#c84000","#806010","#228022","#00c000","#00c070","#00c0c0","#0000ff","#2020c0","#8000c0"]}},
  "detail":{"field":"s","type":"nominal"},
  "order":{"field":"t","type":"quantitative"}
 }},
{"mark":{"type":"rule","color":"#808080","strokeWidth":1},
 "encoding":{"x":{"datum":4.45,"type":"quantitative","axis":{"orient":"top","values":[6,8,10,12,14],"labels":false,"offset":-5,"tickSize":5,"domain":false,"grid":false,"title":null,"tickColor":"black"}}}},
{"data":{"name":"legend"},
 "encoding":{
  "y":{"field":"f","type":"nominal","sort":null,"axis":null,
   "scale":{"type":"point","domain":["1755","1620","1350","1215","1080","925","810","670","405","275"],"padding":1.03,"align":0.55}},
  "color":{"field":"f","type":"nominal","legend":null}
 },
 "layer":[
  {"mark":{"type":"text","align":"left","baseline":"middle","font":"DejaVu Sans Mono","fontSize":10},
   "encoding":{"x":{"datum":2.15,"type":"quantitative","axis":null},"text":{"field":"l"}}},
  {"mark":{"type":"rule","strokeWidth":1},
   "encoding":{"x":{"datum":3.45,"type":"quantitative","axis":null},"x2":{"datum":4.14}}}
 ]}
],
"resolve":{"scale":{"y":"independent"},"axis":{"x":"independent"}}
}
